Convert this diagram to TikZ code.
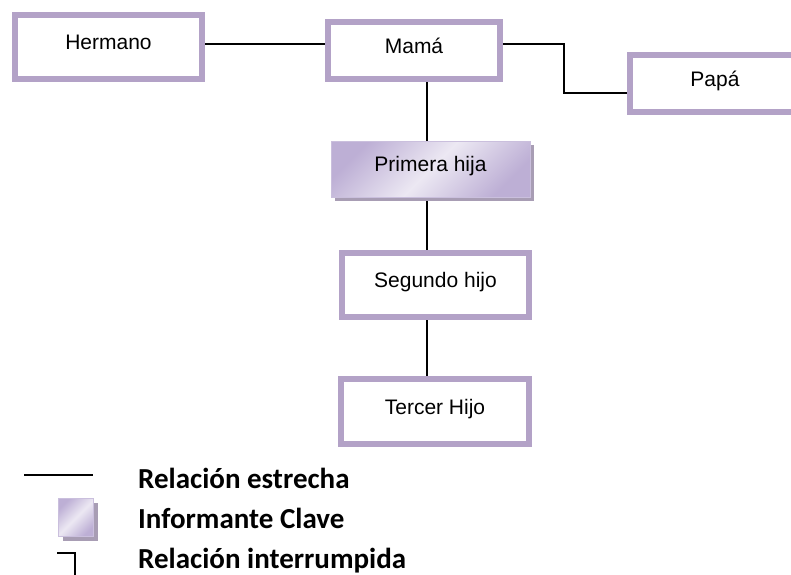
\documentclass[tikz,border=0pt]{standalone}
\usepackage{fontspec}
\setmainfont{Liberation Sans}
\newfontfamily\legfont{Carlito}
\usetikzlibrary{backgrounds,shadows}
\definecolor{boxpurple}{HTML}{B3A2C7}
\definecolor{shadowc}{HTML}{A89DB4}
\definecolor{gradA}{HTML}{BDAFD5}
\definecolor{gradB}{HTML}{ECE8F3}
\tikzset{
  famBox/.style={draw=boxpurple, line width=6pt, fill=white, inner sep=0pt,
    font=\fontsize{21}{24}\selectfont, text height=15pt, text depth=10pt},
  keyBox/.style={draw=gradA!80, line width=1pt, inner sep=0pt,
    top color=gradA, bottom color=gradA, middle color=gradB, shading angle=45,
    drop shadow={shadow xshift=4pt, shadow yshift=-4pt, fill=shadowc, opacity=1},
    font=\fontsize{21}{24}\selectfont, text height=15pt, text depth=10pt},
  link/.style={line width=2pt, black},
  legText/.style={anchor=base west, inner sep=0pt,
    font=\legfont\bfseries\fontsize{29}{32}\selectfont}
}
\begin{document}
\begin{tikzpicture}[x=1pt,y=-1pt]
\clip (0,0) rectangle (791,574);
% family boxes
\node[famBox, minimum width=187pt, minimum height=64pt] (herm) at (108.5,47) {Hermano};
\node[famBox, minimum width=172pt, minimum height=57pt] (mama) at (414,50.5) {Mamá};
\node[famBox, minimum width=170pt, minimum height=57pt] (papa) at (715,83.5) {Papá};
\node[keyBox, minimum width=199pt, minimum height=56pt] (primera) at (430.5,169) {Primera hija};
\node[famBox, minimum width=187pt, minimum height=64pt] (segundo) at (435.5,285) {Segundo hijo};
\node[famBox, minimum width=188pt, minimum height=65pt] (tercer) at (435,411.5) {Tercer Hijo};
% helper coordinates
\coordinate (hy) at (0,44);
\coordinate (vx) at (427,0);
\coordinate (j1) at (564,93);
\begin{pgfonlayer}{background}
\fill[white] (0,0) rectangle (791,574);
\draw[link] (hy -| herm.east) -- (hy -| mama.west);
\draw[link] (hy -| mama.east) -| (j1) -- (j1 -| papa.west);
\draw[link] (vx |- mama.south) -- (vx |- primera.north);
\draw[link] (vx |- primera.south) -- (vx |- segundo.north);
\draw[link] (vx |- segundo.south) -- (vx |- tercer.north);
\end{pgfonlayer}
% legend
\coordinate (l1a) at (24,475);
\coordinate (l1b) at (93,475);
\draw[link] (l1a) -- (l1b);
\node[keyBox, minimum width=35pt, minimum height=38pt] (legsq) at (76,517.5) {};
\coordinate (l3a) at (57,553);
\coordinate (l3b) at (75,553);
\coordinate (l3c) at (75,580);
\draw[line width=2.5pt, black] (l3a) -- (l3b) -- (l3c);
\node[legText] (t1) at (138,488) {Relación estrecha};
\node[legText] (t2) at (138,528) {Informante Clave};
\node[legText] (t3) at (138,568) {Relación interrumpida};
\end{tikzpicture}
\end{document}
